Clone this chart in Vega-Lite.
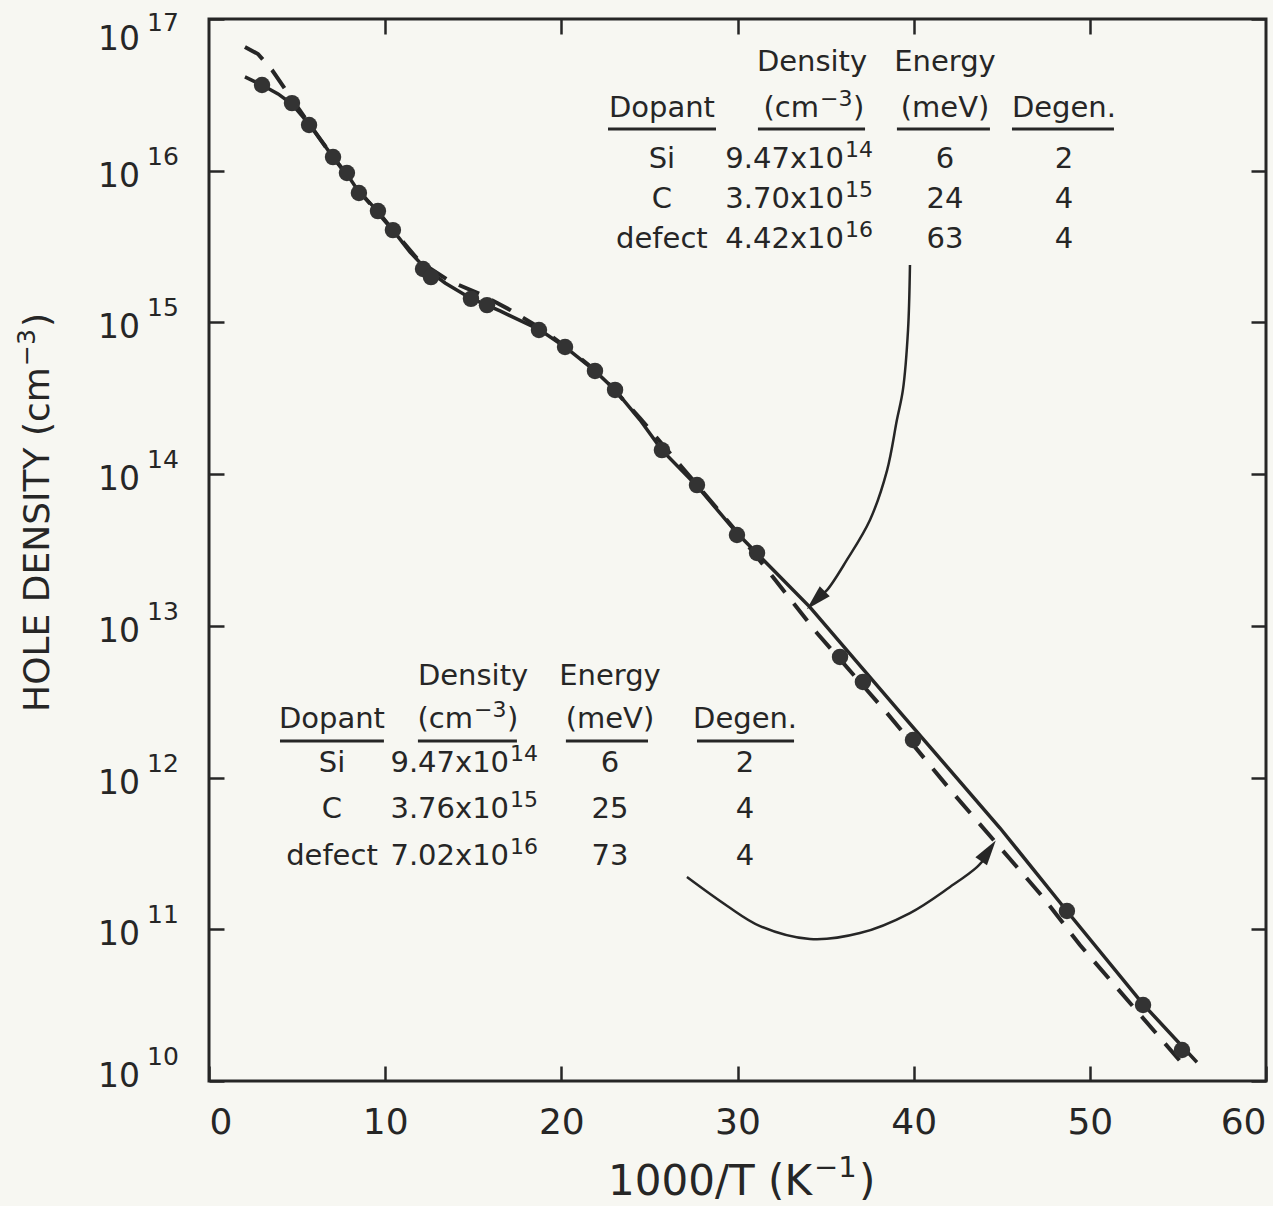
{
  "$schema": "https://vega.github.io/schema/vega-lite/v6.json",
  "width": 1057,
  "height": 1062,
  "autosize": {"type": "none"},
  "padding": {"left": 209, "top": 19, "right": 7, "bottom": 125},
  "background": "#f7f7f2",
  "config": {
    "view": {"stroke": "#262626", "strokeWidth": 3},
    "font": "DejaVu Sans",
    "text": {"font": "DejaVu Sans", "color": "#262626"},
    "axis": {"grid": false, "domain": false, "tickColor": "#262626", "tickWidth": 2.5, "tickSize": -15, "labels": false, "title": null}
  },
  "datasets": {
    "pts": [{"x":3.01,"y":3.67e16},{"x":4.71,"y":2.79e16},{"x":5.68,"y":2.0e16},{"x":7.04,"y":1.23e16},{"x":7.83,"y":9.66e15},{"x":8.51,"y":7.13e15},{"x":9.59,"y":5.42e15},{"x":10.44,"y":4.06e15},{"x":12.15,"y":2.25e15},{"x":12.6,"y":1.99e15},{"x":14.87,"y":1.43e15},{"x":15.78,"y":1.3e15},{"x":18.73,"y":8.91e14},{"x":20.21,"y":6.89e14},{"x":21.91,"y":4.79e14},{"x":23.05,"y":3.59e14},{"x":25.71,"y":1.44e14},{"x":27.7,"y":8.47e13},{"x":29.97,"y":3.97e13},{"x":31.11,"y":3.02e13},{"x":35.82,"y":6.24e12},{"x":37.12,"y":4.27e12},{"x":39.96,"y":1.77e12},{"x":48.7,"y":1.32e11},{"x":53.02,"y":3.17e10},{"x":55.23,"y":1.6e10}],
    "fit": [{"x":2.04,"y":4.15e16},{"x":3.01,"y":3.67e16},{"x":3.92,"y":3.21e16},{"x":4.71,"y":2.75e16},{"x":5.73,"y":2.0e16},{"x":7.04,"y":1.23e16},{"x":7.83,"y":9.51e15},{"x":8.51,"y":7.24e15},{"x":9.59,"y":5.42e15},{"x":10.44,"y":4.06e15},{"x":11.41,"y":2.91e15},{"x":12.26,"y":2.29e15},{"x":13.4,"y":1.82e15},{"x":14.82,"y":1.45e15},{"x":16.52,"y":1.19e15},{"x":18.79,"y":8.91e14},{"x":20.21,"y":6.89e14},{"x":21.91,"y":4.79e14},{"x":23.05,"y":3.59e14},{"x":24.46,"y":2.28e14},{"x":25.71,"y":1.44e14},{"x":27.7,"y":8.36e13},{"x":29.97,"y":4.09e13},{"x":34.11,"y":1.33e13},{"x":39.22,"y":2.7e12},{"x":44.9,"y":4.65e11},{"x":48.65,"y":1.34e11},{"x":53.02,"y":3.21e10},{"x":56.08,"y":1.33e10}],
    "dash": [{"x":2.04,"y":6.54e16},{"x":2.78,"y":5.88e16},{"x":3.58,"y":4.61e16},{"x":4.48,"y":3.25e16},{"x":5.45,"y":2.23e16},{"x":7.04,"y":1.23e16},{"x":8.57,"y":7.24e15},{"x":10.44,"y":4.06e15},{"x":11.98,"y":2.5e15},{"x":13.68,"y":1.87e15},{"x":15.38,"y":1.54e15},{"x":17.09,"y":1.21e15},{"x":18.79,"y":9.19e14},{"x":20.49,"y":6.58e14},{"x":22.19,"y":4.57e14},{"x":24.46,"y":2.34e14},{"x":26.74,"y":1.15e14},{"x":29.97,"y":4.16e13},{"x":32.01,"y":2.1e13},{"x":34.51,"y":8.97e12},{"x":38.49,"y":2.66e12},{"x":42.23,"y":7.91e11},{"x":47.34,"y":1.63e11},{"x":49.44,"y":7.87e10},{"x":55.23,"y":1.31e10}],
    "arrow1": [{"x":39.79,"y":2.39e15},{"x":39.68,"y":8.91e14},{"x":39.39,"y":3.59e14},{"x":39.05,"y":2.28e14},{"x":38.49,"y":1.06e14},{"x":37.52,"y":4.99e13},{"x":36.21,"y":2.72e13},{"x":35.08,"y":1.72e13},{"x":34.5,"y":1.5e13}],
    "arrow2": [{"x":27.13,"y":2.21e11},{"x":29.4,"y":1.43e11},{"x":31.28,"y":1.05e11},{"x":34.11,"y":8.63e10},{"x":36.95,"y":9.44e10},{"x":39.79,"y":1.28e11},{"x":42.06,"y":1.9e11},{"x":43.59,"y":2.57e11},{"x":44.2,"y":3.1e11}],
    "head1": [{"x":34.5,"y":1.5e13}],
    "head2": [{"x":44.2,"y":3.23e11}],
    "under": [
      {"x":22.65,"x2":28.78,"y":1.88e16},{"x":31.16,"x2":37.24,"y":1.88e16},{"x":39.05,"x2":44.33,"y":1.88e16},{"x":45.58,"x2":51.37,"y":1.88e16},
      {"x":4.03,"x2":9.93,"y":1.74e12},{"x":11.86,"x2":17.48,"y":1.74e12},{"x":20.26,"x2":24.92,"y":1.74e12},{"x":27.7,"x2":33.21,"y":1.74e12}
    ],
    "tc": [
      {"t":"Density","x":34.23,"y":4.54e16},{"t":"Energy","x":41.78,"y":4.54e16},
      {"t":"Dopant","x":25.71,"y":2.26e16},{"t":"(meV)","x":41.78,"y":2.26e16},{"t":"Degen.","x":48.53,"y":2.26e16},
      {"t":"Si","x":25.71,"y":1.04e16},{"t":"C","x":25.71,"y":5.68e15},{"t":"defect","x":25.71,"y":3.1e15},
      {"t":"6","x":41.78,"y":1.04e16},{"t":"24","x":41.78,"y":5.68e15},{"t":"63","x":41.78,"y":3.1e15},
      {"t":"2","x":48.53,"y":1.04e16},{"t":"4","x":48.53,"y":5.68e15},{"t":"4","x":48.53,"y":3.1e15},
      {"t":"Density","x":14.99,"y":4.07e12},{"t":"Energy","x":22.76,"y":4.07e12},
      {"t":"Dopant","x":6.98,"y":2.12e12},{"t":"(meV)","x":22.76,"y":2.12e12},{"t":"Degen.","x":30.43,"y":2.12e12},
      {"t":"Si","x":6.98,"y":1.09e12},{"t":"C","x":6.98,"y":5.41e11},{"t":"defect","x":6.98,"y":2.65e11},
      {"t":"6","x":22.76,"y":1.09e12},{"t":"25","x":22.76,"y":5.41e11},{"t":"73","x":22.76,"y":2.65e11},
      {"t":"2","x":30.43,"y":1.09e12},{"t":"4","x":30.43,"y":5.41e11},{"t":"4","x":30.43,"y":2.65e11}
    ],
    "tr": [
      {"t":"(cm","x":34.68,"y":2.26e16},{"t":"9.47x10","x":36.1,"y":1.04e16},{"t":"3.70x10","x":36.1,"y":5.68e15},{"t":"4.42x10","x":36.1,"y":3.1e15},
      {"t":"(cm","x":15.04,"y":2.12e12},{"t":"9.47x10","x":17.09,"y":1.09e12},{"t":"3.76x10","x":17.09,"y":5.41e11},{"t":"7.02x10","x":17.09,"y":2.65e11}
    ],
    "ts": [
      {"t":"−3","x":34.68,"y":2.26e16},{"t":"14","x":36.1,"y":1.04e16},{"t":"15","x":36.1,"y":5.68e15},{"t":"16","x":36.1,"y":3.1e15},
      {"t":"−3","x":15.04,"y":2.12e12},{"t":"14","x":17.09,"y":1.09e12},{"t":"15","x":17.09,"y":5.41e11},{"t":"16","x":17.09,"y":2.65e11}
    ],
    "paren": [{"t":")","x":34.68,"y":2.26e16},{"t":")","x":15.04,"y":2.12e12}],
    "ylab": [{"v":1e17,"e":"17"},{"v":1e16,"e":"16"},{"v":1e15,"e":"15"},{"v":1e14,"e":"14"},{"v":1e13,"e":"13"},{"v":1e12,"e":"12"},{"v":1e11,"e":"11"},{"v":1e10,"e":"10"}]
  },
  "layer": [
    {
      "data": {"name": "fit"},
      "mark": {"type": "line", "color": "#262626", "strokeWidth": 3.5},
      "encoding": {
        "x": {"field": "x", "type": "quantitative", "scale": {"domain": [0, 60], "nice": false, "zero": false},
              "axis": {"orient": "bottom", "values": [0, 10, 20, 30, 40, 50, 60], "labels": true, "labelFontSize": 36, "labelColor": "#262626", "labelFont": "DejaVu Sans", "labelPadding": 39, "labelFlush": true}},
        "y": {"field": "y", "type": "quantitative", "scale": {"type": "log", "domain": [1e10, 1e17], "nice": false},
              "axis": {"orient": "left", "values": [1e10, 1e11, 1e12, 1e13, 1e14, 1e15, 1e16, 1e17]}}
      }
    },
    {
      "data": {"name": "dash"},
      "mark": {"type": "line", "color": "#262626", "strokeWidth": 4, "strokeDash": [22, 14]},
      "encoding": {
        "x": {"field": "x", "type": "quantitative", "axis": {"orient": "top", "values": [10, 20, 30, 40, 50]}},
        "y": {"field": "y", "type": "quantitative", "axis": {"orient": "right", "values": [1e10, 1e11, 1e12, 1e13, 1e14, 1e15, 1e16, 1e17]}}
      }
    },
    {
      "data": {"name": "pts"},
      "mark": {"type": "point", "filled": true, "size": 270, "color": "#333333", "opacity": 1},
      "encoding": {
        "x": {"field": "x", "type": "quantitative", "axis": null},
        "y": {"field": "y", "type": "quantitative", "axis": null}
      }
    },
    {
      "data": {"name": "arrow1"},
      "mark": {"type": "line", "color": "#262626", "strokeWidth": 2.5, "interpolate": "catmull-rom"},
      "encoding": {
        "x": {"field": "x", "type": "quantitative", "axis": null},
        "y": {"field": "y", "type": "quantitative", "axis": null}
      }
    },
    {
      "data": {"name": "arrow2"},
      "mark": {"type": "line", "color": "#262626", "strokeWidth": 2.5, "interpolate": "catmull-rom"},
      "encoding": {
        "x": {"field": "x", "type": "quantitative", "axis": null},
        "y": {"field": "y", "type": "quantitative", "axis": null}
      }
    },
    {
      "data": {"name": "head1"},
      "mark": {"type": "point", "shape": "M0,-1L0.5,0.8L-0.5,0.8Z", "filled": true, "size": 800, "angle": 225, "color": "#262626", "opacity": 1},
      "encoding": {
        "x": {"field": "x", "type": "quantitative", "axis": null},
        "y": {"field": "y", "type": "quantitative", "axis": null}
      }
    },
    {
      "data": {"name": "head2"},
      "mark": {"type": "point", "shape": "M0,-1L0.5,0.8L-0.5,0.8Z", "filled": true, "size": 800, "angle": 35, "color": "#262626", "opacity": 1},
      "encoding": {
        "x": {"field": "x", "type": "quantitative", "axis": null},
        "y": {"field": "y", "type": "quantitative", "axis": null}
      }
    },
    {
      "data": {"name": "under"},
      "mark": {"type": "rule", "color": "#262626", "strokeWidth": 3},
      "encoding": {
        "x": {"field": "x", "type": "quantitative", "axis": null},
        "x2": {"field": "x2"},
        "y": {"field": "y", "type": "quantitative", "axis": null}
      }
    },
    {
      "data": {"name": "tc"},
      "mark": {"type": "text", "fontSize": 29, "align": "center", "baseline": "alphabetic"},
      "encoding": {
        "x": {"field": "x", "type": "quantitative", "axis": null},
        "y": {"field": "y", "type": "quantitative", "axis": null},
        "text": {"field": "t"}
      }
    },
    {
      "data": {"name": "tr"},
      "mark": {"type": "text", "fontSize": 29, "align": "right", "baseline": "alphabetic", "dx": -1},
      "encoding": {
        "x": {"field": "x", "type": "quantitative", "axis": null},
        "y": {"field": "y", "type": "quantitative", "axis": null},
        "text": {"field": "t"}
      }
    },
    {
      "data": {"name": "ts"},
      "mark": {"type": "text", "fontSize": 22, "align": "left", "baseline": "alphabetic", "dx": 0, "dy": -11},
      "encoding": {
        "x": {"field": "x", "type": "quantitative", "axis": null},
        "y": {"field": "y", "type": "quantitative", "axis": null},
        "text": {"field": "t"}
      }
    },
    {
      "data": {"name": "paren"},
      "mark": {"type": "text", "fontSize": 29, "align": "left", "baseline": "alphabetic", "dx": 33},
      "encoding": {
        "x": {"field": "x", "type": "quantitative", "axis": null},
        "y": {"field": "y", "type": "quantitative", "axis": null},
        "text": {"field": "t"}
      }
    },
    {
      "data": {"name": "ylab"},
      "transform": [{"filter": "datum.v < 1e17 && datum.v > 1e10"}],
      "mark": {"type": "text", "fontSize": 33, "align": "right", "baseline": "middle", "dx": -69, "dy": 6},
      "encoding": {
        "x": {"datum": 0, "type": "quantitative", "axis": null},
        "y": {"field": "v", "type": "quantitative", "axis": null},
        "text": {"value": "10"}
      }
    },
    {
      "data": {"name": "ylab"},
      "transform": [{"filter": "datum.v < 1e17 && datum.v > 1e10"}],
      "mark": {"type": "text", "fontSize": 25, "align": "left", "baseline": "middle", "dx": -62, "dy": -14},
      "encoding": {
        "x": {"datum": 0, "type": "quantitative", "axis": null},
        "y": {"field": "v", "type": "quantitative", "axis": null},
        "text": {"field": "e"}
      }
    },
    {
      "data": {"name": "ylab"},
      "transform": [{"filter": "datum.v >= 1e17"}],
      "mark": {"type": "text", "fontSize": 33, "align": "right", "baseline": "middle", "dx": -69, "dy": 21},
      "encoding": {
        "x": {"datum": 0, "type": "quantitative", "axis": null},
        "y": {"field": "v", "type": "quantitative", "axis": null},
        "text": {"value": "10"}
      }
    },
    {
      "data": {"name": "ylab"},
      "transform": [{"filter": "datum.v >= 1e17"}],
      "mark": {"type": "text", "fontSize": 25, "align": "left", "baseline": "middle", "dx": -62, "dy": 4},
      "encoding": {
        "x": {"datum": 0, "type": "quantitative", "axis": null},
        "y": {"field": "v", "type": "quantitative", "axis": null},
        "text": {"field": "e"}
      }
    },
    {
      "data": {"name": "ylab"},
      "transform": [{"filter": "datum.v <= 1e10"}],
      "mark": {"type": "text", "fontSize": 33, "align": "right", "baseline": "middle", "dx": -69, "dy": -4},
      "encoding": {
        "x": {"datum": 0, "type": "quantitative", "axis": null},
        "y": {"field": "v", "type": "quantitative", "axis": null},
        "text": {"value": "10"}
      }
    },
    {
      "data": {"name": "ylab"},
      "transform": [{"filter": "datum.v <= 1e10"}],
      "mark": {"type": "text", "fontSize": 25, "align": "left", "baseline": "middle", "dx": -62, "dy": -24},
      "encoding": {
        "x": {"datum": 0, "type": "quantitative", "axis": null},
        "y": {"field": "v", "type": "quantitative", "axis": null},
        "text": {"field": "e"}
      }
    },
    {
      "data": {"values": [{"t": "1000/T (K", "s": "−1", "p": ")"}]},
      "mark": {"type": "text", "fontSize": 42, "align": "right", "baseline": "alphabetic", "dy": 114},
      "encoding": {
        "x": {"datum": 34.23, "type": "quantitative", "axis": null},
        "y": {"datum": 1e10, "type": "quantitative", "axis": null},
        "text": {"field": "t"}
      }
    },
    {
      "data": {"values": [{"t": "1000/T (K", "s": "−1", "p": ")"}]},
      "mark": {"type": "text", "fontSize": 29, "align": "left", "baseline": "alphabetic", "dx": 2, "dy": 96},
      "encoding": {
        "x": {"datum": 34.23, "type": "quantitative", "axis": null},
        "y": {"datum": 1e10, "type": "quantitative", "axis": null},
        "text": {"field": "s"}
      }
    },
    {
      "data": {"values": [{"t": "1000/T (K", "s": "−1", "p": ")"}]},
      "mark": {"type": "text", "fontSize": 42, "align": "left", "baseline": "alphabetic", "dx": 47, "dy": 114},
      "encoding": {
        "x": {"datum": 34.23, "type": "quantitative", "axis": null},
        "y": {"datum": 1e10, "type": "quantitative", "axis": null},
        "text": {"field": "p"}
      }
    },
    {
      "data": {"values": [{"t": "HOLE DENSITY (cm", "s": "−3", "p": ")"}]},
      "mark": {"type": "text", "fontSize": 36, "angle": 270, "align": "right", "baseline": "alphabetic", "dy": -160},
      "encoding": {
        "x": {"datum": 0, "type": "quantitative", "axis": null},
        "y": {"datum": 5.08e14, "type": "quantitative", "axis": null},
        "text": {"field": "t"}
      }
    },
    {
      "data": {"values": [{"t": "HOLE DENSITY (cm", "s": "−3", "p": ")"}]},
      "mark": {"type": "text", "fontSize": 25, "angle": 270, "align": "left", "baseline": "alphabetic", "dx": 1, "dy": -174},
      "encoding": {
        "x": {"datum": 0, "type": "quantitative", "axis": null},
        "y": {"datum": 5.08e14, "type": "quantitative", "axis": null},
        "text": {"field": "s"}
      }
    },
    {
      "data": {"values": [{"t": "HOLE DENSITY (cm", "s": "−3", "p": ")"}]},
      "mark": {"type": "text", "fontSize": 36, "angle": 270, "align": "left", "baseline": "alphabetic", "dx": 40, "dy": -160},
      "encoding": {
        "x": {"datum": 0, "type": "quantitative", "axis": null},
        "y": {"datum": 5.08e14, "type": "quantitative", "axis": null},
        "text": {"field": "p"}
      }
    }
  ],
  "resolve": {"axis": {"x": "independent", "y": "independent"}}
}
